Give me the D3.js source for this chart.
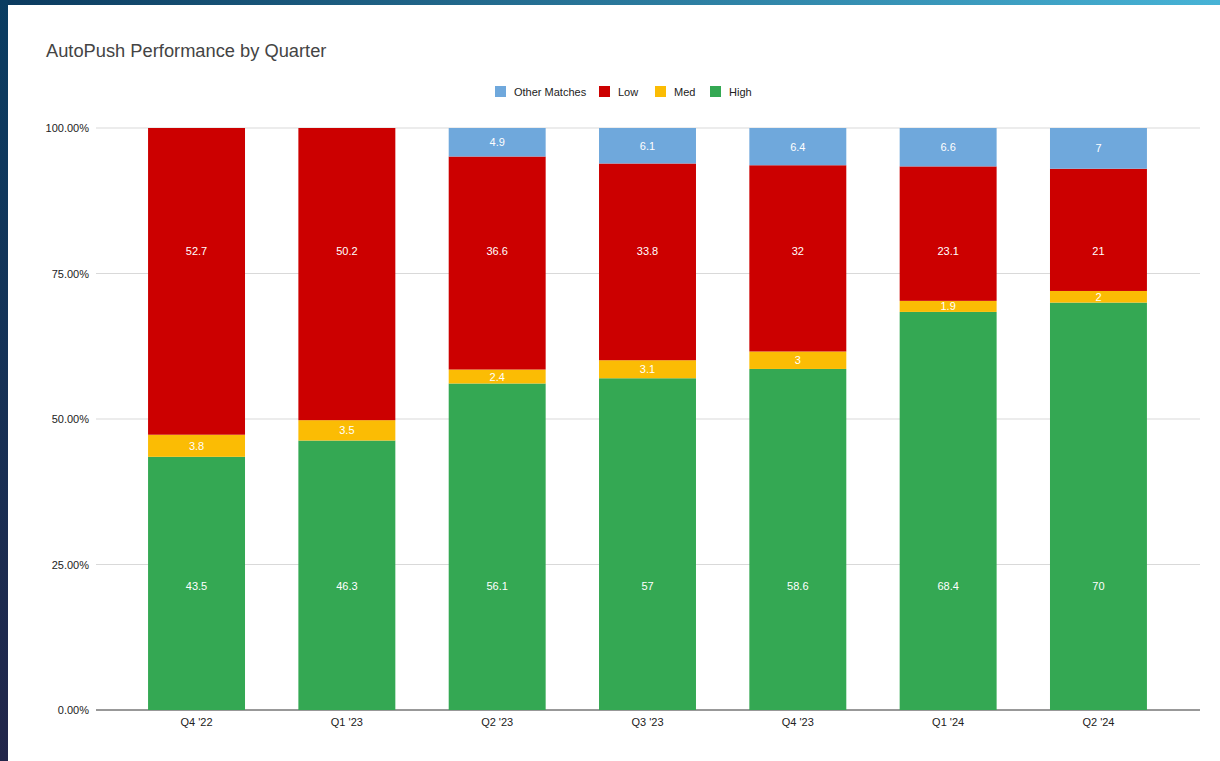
<!DOCTYPE html>
<html>
<head>
<meta charset="utf-8">
<script src="https://cdn.jsdelivr.net/npm/d3@7"></script>
<style>
  html, body { margin: 0; padding: 0; background: #fff; }
  svg { display: block; font-family: "Liberation Sans", Arial, sans-serif; }
</style>
</head>
<body>
<svg id="chart" width="1220" height="761"></svg>
<script>
// quarters and stacked series values (percent)
const quarters = ["Q4 '22", "Q1 '23", "Q2 '23", "Q3 '23", "Q4 '23", "Q1 '24", "Q2 '24"];
const high = [43.5, 46.3, 56.1, 57, 58.6, 68.4, 70];
const med = [3.8, 3.5, 2.4, 3.1, 3, 1.9, 2];
const low = [52.7, 50.2, 36.6, 33.8, 32, 23.1, 21];
const otherMatches = [0, 0, 4.9, 6.1, 6.4, 6.6, 7];
const yTicks = [0, 0.25, 0.5, 0.75, 1];

const seriesNames = ['High', 'Med', 'Low', 'Other Matches'];
const seriesValues = [high, med, low, otherMatches];
const colors = { 'High': '#34a853', 'Med': '#fbbc04', 'Low': '#cc0000', 'Other Matches': '#6fa8dc' };
const legendOrder = ['Other Matches', 'Low', 'Med', 'High'];
// the sheet puts labels of the tall segments at a shared level, not at the segment centre
const labelLevel = { 'High': 21.3, 'Low': 78.9 };

const svg = d3.select('#chart');

// frame around the chart (screenshot border)
const defs = svg.append('defs');
const topGrad = defs.append('linearGradient').attr('id', 'topGrad');
topGrad.append('stop').attr('offset', '0%').attr('stop-color', '#0b3a5e');
topGrad.append('stop').attr('offset', '100%').attr('stop-color', '#47b3d6');
const leftGrad = defs.append('linearGradient').attr('id', 'leftGrad')
  .attr('x1', 0).attr('y1', 0).attr('x2', 0).attr('y2', 1);
leftGrad.append('stop').attr('offset', '0%').attr('stop-color', '#0a3d62');
leftGrad.append('stop').attr('offset', '100%').attr('stop-color', '#22264a');
svg.append('rect').attr('x', 0).attr('y', 0).attr('width', 1220).attr('height', 5).attr('fill', 'url(#topGrad)');
svg.append('rect').attr('x', 0).attr('y', 0).attr('width', 8).attr('height', 761).attr('fill', 'url(#leftGrad)');

const margin = { left: 96, right: 1200, top: 128, bottom: 710 };

const rows = quarters.map(function (q, i) {
  const row = { quarter: q };
  seriesNames.forEach(function (s, j) { row[s] = seriesValues[j][i]; });
  return row;
});
const stacked = d3.stack().keys(seriesNames)(rows);

const x = d3.scaleBand().domain(quarters).range([121, 1174]).paddingInner(0.355).paddingOuter(0.18);
const y = d3.scaleLinear().domain([0, 100]).range([margin.bottom, margin.top]);

// title
svg.append('text')
  .attr('x', 46).attr('y', 57)
  .attr('font-size', 18.3).attr('fill', '#444')
  .text('AutoPush Performance by Quarter');

// gridlines and y labels
const yAxis = svg.append('g');
yAxis.selectAll('line').data(yTicks).join('line')
  .attr('x1', margin.left).attr('x2', margin.right)
  .attr('y1', function (d) { return y(d * 100); })
  .attr('y2', function (d) { return y(d * 100); })
  .attr('stroke', function (d) { return d === 0 ? '#333' : '#d9d9d9'; })
  .attr('stroke-width', 1);
yAxis.selectAll('text').data(yTicks).join('text')
  .attr('x', 89).attr('y', function (d) { return y(d * 100) + 4; })
  .attr('text-anchor', 'end').attr('font-size', 11).attr('fill', '#222')
  .text(function (d) { return d3.format('.2%')(d); });

// bars
const layers = svg.append('g').selectAll('g').data(stacked).join('g')
  .attr('fill', function (d) { return colors[d.key]; });
layers.selectAll('rect').data(function (d) { return d; }).join('rect')
  .attr('x', function (d) { return x(d.data.quarter); })
  .attr('width', x.bandwidth())
  .attr('y', function (d) { return y(d[1]); })
  .attr('height', function (d) { return Math.max(0, y(d[0]) - y(d[1])); });

// value labels
const labels = svg.append('g');
stacked.forEach(function (layer) {
  labels.selectAll(null).data(layer.filter(function (d) { return d[1] - d[0] > 0; })).join('text')
    .attr('x', function (d) { return x(d.data.quarter) + x.bandwidth() / 2; })
    .attr('y', function (d) {
      const level = labelLevel[layer.key];
      const v = level !== undefined ? level : (d[0] + d[1]) / 2;
      return y(v) + 4;
    })
    .attr('text-anchor', 'middle').attr('font-size', 11).attr('fill', '#fff')
    .text(function (d) { return d.data[layer.key]; });
});

// x labels
svg.append('g').selectAll('text').data(quarters).join('text')
  .attr('x', function (d) { return x(d) + x.bandwidth() / 2; })
  .attr('y', 726)
  .attr('text-anchor', 'middle').attr('font-size', 11).attr('fill', '#222')
  .text(function (d) { return d; });

// legend
const legendX = [495, 599, 655, 710];
const legend = svg.append('g').selectAll('g').data(legendOrder).join('g')
  .attr('transform', function (d, i) { return 'translate(' + legendX[i] + ',86)'; });
legend.append('rect').attr('width', 11).attr('height', 11)
  .attr('fill', function (d) { return colors[d]; });
legend.append('text').attr('x', 19).attr('y', 10)
  .attr('font-size', 11).attr('fill', '#222')
  .text(function (d) { return d; });
</script>
</body>
</html>
